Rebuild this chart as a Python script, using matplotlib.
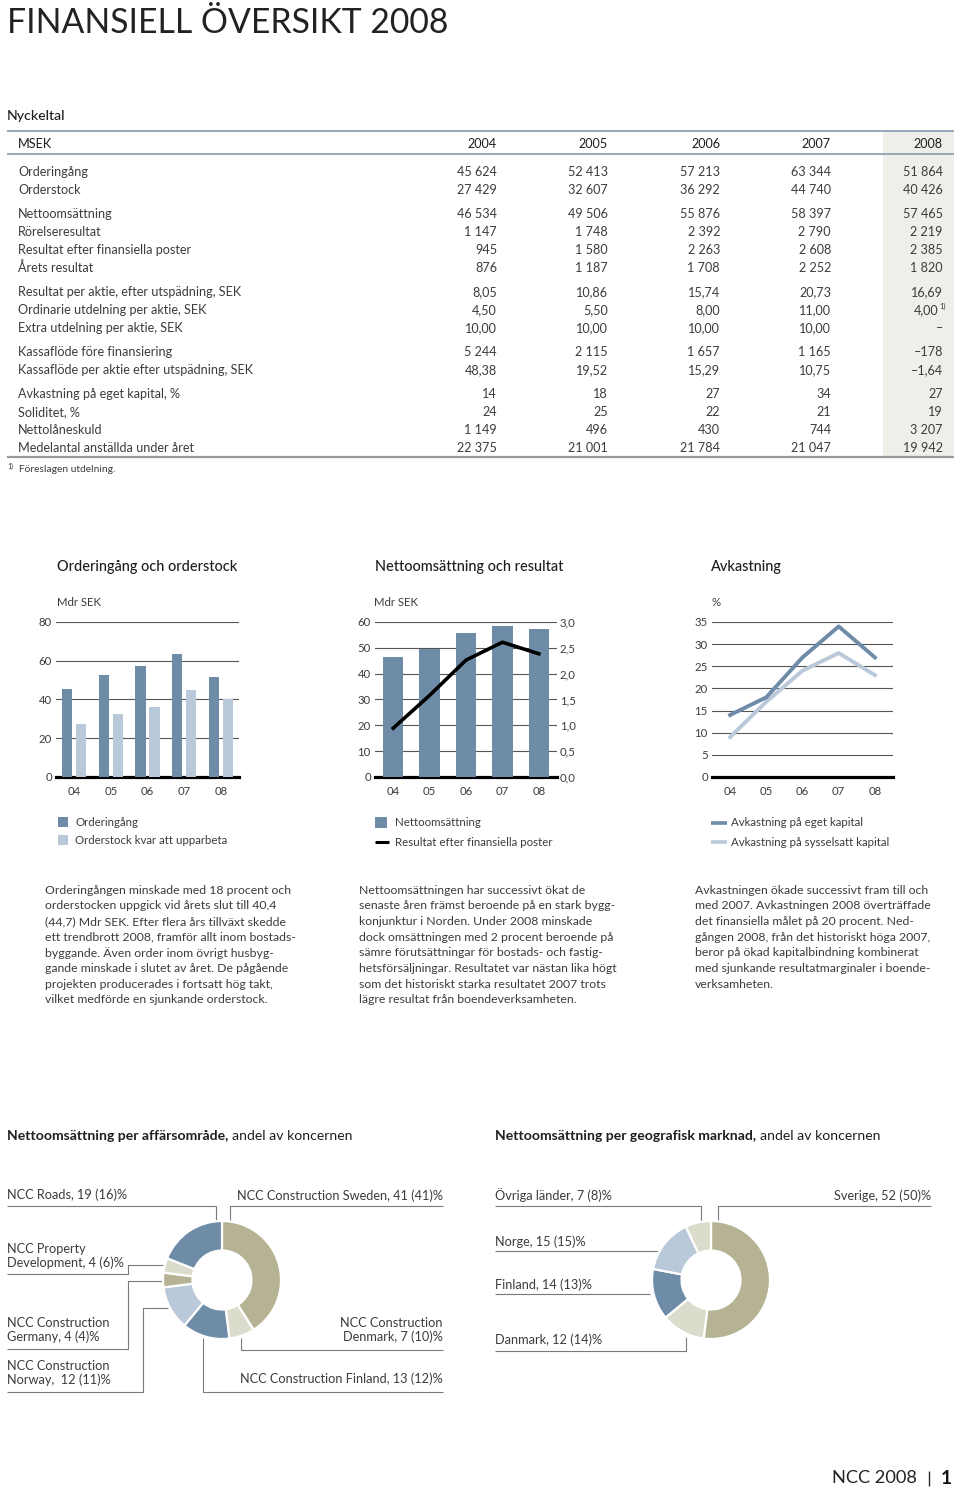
import matplotlib
matplotlib.use('Agg')
import matplotlib.pyplot as plt
from matplotlib.patches import Rectangle
import numpy as np

plt.rcParams['font.family'] = ['Lato', 'DejaVu Sans']

# ---------------- DATA ----------------
years = ['2004', '2005', '2006', '2007', '2008']
table_groups = [
    [("Orderingång", ["45 624", "52 413", "57 213", "63 344", "51 864"]),
     ("Orderstock", ["27 429", "32 607", "36 292", "44 740", "40 426"])],
    [("Nettoomsättning", ["46 534", "49 506", "55 876", "58 397", "57 465"]),
     ("Rörelseresultat", ["1 147", "1 748", "2 392", "2 790", "2 219"]),
     ("Resultat efter finansiella poster", ["945", "1 580", "2 263", "2 608", "2 385"]),
     ("Årets resultat", ["876", "1 187", "1 708", "2 252", "1 820"])],
    [("Resultat per aktie, efter utspädning, SEK", ["8,05", "10,86", "15,74", "20,73", "16,69"]),
     ("Ordinarie utdelning per aktie, SEK", ["4,50", "5,50", "8,00", "11,00", "4,00"]),
     ("Extra utdelning per aktie, SEK", ["10,00", "10,00", "10,00", "10,00", "–"])],
    [("Kassaflöde före finansiering", ["5 244", "2 115", "1 657", "1 165", "–178"]),
     ("Kassaflöde per aktie efter utspädning, SEK", ["48,38", "19,52", "15,29", "10,75", "–1,64"])],
    [("Avkastning på eget kapital, %", ["14", "18", "27", "34", "27"]),
     ("Soliditet, %", ["24", "25", "22", "21", "19"]),
     ("Nettolåneskuld", ["1 149", "496", "430", "744", "3 207"]),
     ("Medelantal anställda under året", ["22 375", "21 001", "21 784", "21 047", "19 942"])],
]

chart_years = ['04', '05', '06', '07', '08']
orderingang = [45.624, 52.413, 57.213, 63.344, 51.864]
orderstock = [27.429, 32.607, 36.292, 44.740, 40.426]
nettoomsattning = [46.534, 49.506, 55.876, 58.397, 57.465]
resultat_efp = [0.945, 1.580, 2.263, 2.608, 2.385]
avk_eget = [14, 18, 27, 34, 27]
avk_syss = [9, 17, 24, 28, 23]

seg_labels = ['NCC Construction Sweden, 41 (41)%', 'NCC Construction\nDenmark, 7 (10)%',
              'NCC Construction Finland, 13 (12)%', 'NCC Construction\nNorway,  12 (11)%',
              'NCC Construction\nGermany, 4 (4)%', 'NCC Property\nDevelopment, 4 (6)%',
              'NCC Roads, 19 (16)%']
seg_values = [41, 7, 13, 12, 4, 4, 19]
geo_labels = ['Sverige, 52 (50)%', 'Danmark, 12 (14)%', 'Finland, 14 (13)%',
              'Norge, 15 (15)%', 'Övriga länder, 7 (8)%']
geo_values = [52, 12, 14, 15, 7]

text_col1 = ["Orderingången minskade med 18 procent och",
             "orderstocken uppgick vid årets slut till 40,4",
             "(44,7) Mdr SEK. Efter flera års tillväxt skedde",
             "ett trendbrott 2008, framför allt inom bostads-",
             "byggande. Även order inom övrigt husbyg-",
             "gande minskade i slutet av året. De pågående",
             "projekten producerades i fortsatt hög takt,",
             "vilket medförde en sjunkande orderstock."]
text_col2 = ["Nettoomsättningen har successivt ökat de",
             "senaste åren främst beroende på en stark bygg-",
             "konjunktur i Norden. Under 2008 minskade",
             "dock omsättningen med 2 procent beroende på",
             "sämre förutsättningar för bostads- och fastig-",
             "hetsförsäljningar. Resultatet var nästan lika högt",
             "som det historiskt starka resultatet 2007 trots",
             "lägre resultat från boendeverksamheten."]
text_col3 = ["Avkastningen ökade successivt fram till och",
             "med 2007. Avkastningen 2008 överträffade",
             "det finansiella målet på 20 procent. Ned-",
             "gången 2008, från det historiskt höga 2007,",
             "beror på ökad kapitalbindning kombinerat",
             "med sjunkande resultatmarginaler i boende-",
             "verksamheten."]

# ---------------- STYLE ----------------
DARK = '#6e8ca7'
LIGHT = '#b9c9d9'
OLIVE = '#b5b393'
BEIGE = '#dcdccc'
TXT = '#3c3c3c'
GRID = '#555555'
LEAD = '#7a7a7a'
WB = 'normal'   # body weight

W, H = 960, 1492
fig = plt.figure(figsize=(9.6, 14.92), dpi=100)
renderer = fig.canvas.get_renderer()

bg = fig.add_axes([0, 0, 1, 1])
bg.set_xlim(0, W)
bg.set_ylim(H, 0)
bg.axis('off')


def size_for(s, target_px, weight='normal', base=10.0):
    t = fig.text(0, 0, s, fontsize=base, fontweight=weight)
    w = t.get_window_extent(renderer).width
    t.remove()
    return base * target_px / w


def T(x, y, s, size, ha='left', va='center', weight=WB, color=TXT, **kw):
    return bg.text(x, y, s, fontsize=size, ha=ha, va=va, fontweight=weight,
                   color=color, **kw)


def L(xs, ys, color=LEAD, lw=0.8):
    bg.plot(xs, ys, color=color, lw=lw, solid_capstyle='butt')


def ax_px(left, top, right, bottom):
    return fig.add_axes([left / W, 1 - bottom / H, (right - left) / W, (bottom - top) / H])


# font sizes calibrated to reference widths
S_TITLE = size_for("FINANSIELL ÖVERSIKT 2008", 436, 'normal')
S_HEAD = size_for("Nyckeltal", 59, 'medium')
S_TAB = size_for("Resultat per aktie, efter utspädning, SEK", 222, WB)
S_FOOT = size_for("Föreslagen utdelning.", 96, WB)
S_CT = size_for("Orderingång och orderstock", 181, 'medium')
S_TICK = size_for("Mdr SEK", 44, WB)
S_LEG = size_for("Orderstock kvar att upparbeta", 153, WB)
S_BODY = size_for("Orderingången minskade med 18 procent och", 248, WB)
S_DON = size_for("NCC Construction Sweden, 41 (41)%", 207, WB)
S_SEC = size_for("Nettoomsättning per affärsområde,", 222, 'bold')
S_PAGE = size_for("NCC 2008", 85, 'normal')

# ---------------- HEADER ----------------
T(7, 23, "FINANSIELL ÖVERSIKT 2008", S_TITLE, weight='normal', color='#222222')
T(7, 116, "Nyckeltal", S_HEAD, weight='medium', color='#1e1e1e')

# ---------------- TABLE ----------------
col_right = [497, 608, 720, 831, 943]
bg.add_patch(Rectangle((883, 131), 71, 326, facecolor='#efefe9', edgecolor='none', zorder=0))
L([7, 954], [131, 131], color='#8ea3b4', lw=1.3)
L([7, 954], [154, 154], color='#8ea3b4', lw=1.3)
L([7, 954], [457, 457], color='#999999', lw=1.6)
T(18, 144, "MSEK", S_TAB, color='#1e1e1e')
for xr, yr in zip(col_right, years):
    T(xr, 144, yr, S_TAB, ha='right', color='#1e1e1e')

y = 172
for gi, grp in enumerate(table_groups):
    if gi > 0:
        y += 6
    for label, vals in grp:
        T(18, y, label, S_TAB)
        for ci, (xr, v) in enumerate(zip(col_right, vals)):
            if label.startswith("Ordinarie") and ci == 4:
                T(938, y, v, S_TAB, ha='right')
                T(939, y - 4, "1)", S_TAB * 0.6)
            else:
                T(xr, y, v, S_TAB, ha='right')
        y += 18

T(7, 466, "1)", S_FOOT * 0.7)
T(19, 470, "Föreslagen utdelning.", S_FOOT)

# ---------------- CHARTS ----------------
x = np.arange(5)


def style(ax, ymax, step):
    ax.set_xlim(-0.5, 4.5)
    ax.set_ylim(0, ymax)
    ax.set_yticks(np.arange(0, ymax + 0.001, step))
    ax.set_xticks(x)
    ax.set_xticklabels(chart_years)
    for s in ['top', 'right', 'left']:
        ax.spines[s].set_visible(False)
    ax.spines['bottom'].set_linewidth(2.3)
    ax.spines['bottom'].set_color('black')
    ax.tick_params(length=0, labelsize=S_TICK, labelcolor=TXT)
    ax.tick_params(axis='y', pad=3)
    ax.tick_params(axis='x', pad=6.5)
    ax.yaxis.grid(True, color=GRID, lw=0.8)
    ax.set_axisbelow(True)
    ax.patch.set_alpha(0)


# Chart 1
T(57, 567, "Orderingång och orderstock", S_CT, weight='medium', color='#1e1e1e')
T(57, 603, "Mdr SEK", S_TICK)
ax1 = ax_px(56, 622, 239, 777)
style(ax1, 80, 20)
bw = 0.28
ax1.bar(x - 0.19, orderingang, width=bw, color=DARK, zorder=3)
ax1.bar(x + 0.19, orderstock, width=bw, color=LIGHT, zorder=3)

# Chart 2
T(375, 567, "Nettoomsättning och resultat", S_CT, weight='medium', color='#1e1e1e')
T(374, 603, "Mdr SEK", S_TICK)
ax2 = ax_px(375, 622, 557, 777)
style(ax2, 60, 10)
ax2.bar(x, nettoomsattning, width=0.56, color=DARK, zorder=3)
ax2b = ax2.twinx()
ax2b.set_ylim(0, 3)
ax2b.set_yticks(np.arange(0, 3.01, 0.5))
ax2b.set_yticklabels([f"{v:.1f}".replace('.', ',') for v in np.arange(0, 3.01, 0.5)])
for s in ['top', 'right', 'left', 'bottom']:
    ax2b.spines[s].set_visible(False)
ax2b.tick_params(length=0, labelsize=S_TICK, labelcolor=TXT, pad=2)
ax2b.plot(x, resultat_efp, color='black', lw=2.6, zorder=4)

# Chart 3
T(711, 567, "Avkastning", S_CT, weight='medium', color='#1e1e1e')
T(711, 603, "%", S_TICK)
ax3 = ax_px(712, 622, 893, 777)
style(ax3, 35, 5)
ax3.plot(x, avk_syss, color=LIGHT, lw=2.8, zorder=3)
ax3.plot(x, avk_eget, color=DARK, lw=2.8, zorder=4)

# Legends
bg.add_patch(Rectangle((58, 817), 10, 10, facecolor=DARK, edgecolor='none'))
bg.add_patch(Rectangle((58, 835), 10, 10, facecolor=LIGHT, edgecolor='none'))
T(75, 823, "Orderingång", S_LEG)
T(75, 840, "Orderstock kvar att upparbeta", S_LEG)

bg.add_patch(Rectangle((375, 817), 12, 11, facecolor=DARK, edgecolor='none'))
L([375, 389], [842, 842], color='black', lw=2.2)
T(395, 823, "Nettoomsättning", S_LEG)
T(395, 842, "Resultat efter finansiella poster", S_LEG)

L([711, 727], [823, 823], color=DARK, lw=2.6)
L([711, 727], [842, 842], color=LIGHT, lw=2.6)
T(731, 823, "Avkastning på eget kapital", S_LEG)
T(731, 842, "Avkastning på sysselsatt kapital", S_LEG)

# Body text
for col_x, lines in [(45, text_col1), (359, text_col2), (695, text_col3)]:
    for i, line in enumerate(lines):
        T(col_x, 890 + i * 15.7, line, S_BODY)

# ---------------- DONUTS ----------------
def section_title(x0, y0, bold, rest):
    t = T(x0, y0, bold, S_SEC, weight='bold', color='#1e1e1e')
    ext = t.get_window_extent(renderer)
    T(x0 + ext.width + 4, y0, rest, S_SEC, color='#1e1e1e')


section_title(7, 1136, "Nettoomsättning per affärsområde,", "andel av koncernen")
section_title(495, 1136, "Nettoomsättning per geografisk marknad,", "andel av koncernen")


def donut(cx, cy, r, values, colors):
    ax = ax_px(cx - r, cy - r, cx + r, cy + r)
    ax.pie(values, colors=colors, startangle=90, counterclock=False, radius=1,
           wedgeprops=dict(width=0.5, edgecolor='white', linewidth=1.6))
    ax.set_xlim(-1, 1)
    ax.set_ylim(-1, 1)
    ax.set_aspect('equal')
    ax.axis('off')


donut(222, 1280, 59, seg_values, [OLIVE, BEIGE, DARK, LIGHT, OLIVE, BEIGE, DARK])
donut(711, 1280, 59, geo_values, [OLIVE, BEIGE, DARK, LIGHT, BEIGE])

# Left donut labels & leaders
T(7, 1195, seg_labels[6], S_DON)
L([7, 216, 216], [1206, 1206, 1221])
T(443, 1196, seg_labels[0], S_DON, ha='right')
L([443, 230, 230], [1206, 1206, 1221])
T(7, 1256, seg_labels[5], S_DON, linespacing=1.15)
L([7, 128, 128, 163], [1274, 1274, 1265, 1265])
T(7, 1330, seg_labels[4], S_DON, linespacing=1.15)
L([7, 128, 128, 163], [1349, 1349, 1281, 1281])
T(7, 1373, seg_labels[3], S_DON, linespacing=1.15)
L([7, 143, 143, 168], [1392, 1392, 1308, 1308])
T(443, 1330, seg_labels[1], S_DON, ha='right', linespacing=1.15, multialignment='right')
L([443, 241, 241], [1350, 1350, 1338])
T(443, 1379, seg_labels[2], S_DON, ha='right')
L([443, 203, 203], [1392, 1392, 1338])

# Right donut labels & leaders
T(495, 1195, geo_labels[4], S_DON)
L([495, 701, 701], [1206, 1206, 1221])
T(931, 1196, geo_labels[0], S_DON, ha='right')
L([931, 718, 718], [1206, 1206, 1221])
T(495, 1242, geo_labels[3], S_DON)
L([495, 658], [1251, 1251])
T(495, 1285, geo_labels[2], S_DON)
L([495, 650], [1294, 1294])
T(495, 1340, geo_labels[1], S_DON)
L([495, 686, 686], [1351, 1351, 1337])

# Footer
T(832, 1478, "NCC 2008", S_PAGE, weight='normal', color='#222222')
L([929, 929], [1471, 1486], color='#2a2a2a', lw=1.0)
T(946, 1478, "1", S_PAGE * 1.05, ha='center', weight='bold', color='#111111')

fig.savefig('out.png', dpi=100)
